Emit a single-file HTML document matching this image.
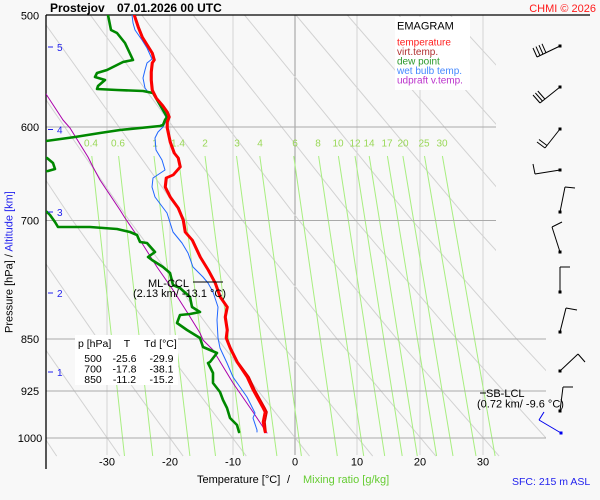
<!DOCTYPE html>
<html><head><meta charset="utf-8"><style>
html,body{margin:0;padding:0;background:#f8f8f8;}
svg{display:block;font-family:"Liberation Sans",Arial,sans-serif;}
</style></head><body>
<svg width="600" height="500" viewBox="0 0 600 500" xmlns="http://www.w3.org/2000/svg">
<rect x="0" y="0" width="600" height="500" fill="#f8f8f8"/>
<defs>
<clipPath id="cg"><polygon points="46,15 496,15 496,310 546,310 546,457 46,457"/></clipPath>
<clipPath id="cd"><rect x="46" y="15" width="550" height="445"/></clipPath>
</defs>

<!-- temperature verticals -->
<g stroke="#d4d4d4" stroke-width="1">
<line x1="107" y1="15" x2="107" y2="455"/>
<line x1="170" y1="15" x2="170" y2="455"/>
<line x1="233" y1="15" x2="233" y2="455"/>
<line x1="357" y1="15" x2="357" y2="455"/>
<line x1="420" y1="15" x2="420" y2="455"/>
<line x1="483" y1="15" x2="483" y2="455"/>
</g>
<line x1="295" y1="15" x2="295" y2="455" stroke="#9a9a9a" stroke-width="1"/>

<!-- dry adiabats -->
<g clip-path="url(#cg)" fill="none" stroke="#d2d2d2" stroke-width="1">
<polyline points="-218,15 -97.3,220.35 -22,338.84 56.7,456.1"/>
<polyline points="-166.8,15 -40.7,220.35 37.9,338.84 119.9,456.1"/>
<polyline points="-115.4,15 15.9,220.35 97.6,338.84 183.1,456.1"/>
<polyline points="-64,15 72.5,220.35 157.5,338.84 246.3,456.1"/>
<polyline points="-12.5,15 129.1,220.35 217.4,338.84 309.5,456.1"/>
<polyline points="38.9,15 185.8,220.35 277.1,338.84 372.7,456.1"/>
<polyline points="90.3,15 242.3,220.35 337,338.84 435.9,456.1"/>
<polyline points="141.7,15 298.9,220.35 396.8,338.84 499.1,456.1"/>
<polyline points="193.1,15 355.5,220.35 456.6,338.84 562.3,456.1"/>
<polyline points="244.5,15 412.1,220.35 516.5,338.84 625.5,456.1"/>
<polyline points="295.9,15 468.7,220.35 576.3,338.84"/>
<polyline points="347.3,15 525.3,220.35"/>
<polyline points="398.7,15 581.9,220.35"/>
<polyline points="450.2,15 638.5,220.35"/>
</g>

<!-- mixing ratio lines -->
<g stroke="#a8ee80" stroke-width="1">
<line x1="91.8" y1="156" x2="124.5" y2="456"/>
<line x1="118.6" y1="156" x2="152.7" y2="456"/>
<line x1="154" y1="156" x2="189.9" y2="456"/>
<line x1="178.3" y1="156" x2="215.5" y2="456"/>
<line x1="205" y1="156" x2="243.6" y2="456"/>
<line x1="236.5" y1="156" x2="276.9" y2="456"/>
<line x1="259.8" y1="156" x2="301.4" y2="456"/>
<line x1="293.7" y1="156" x2="337.3" y2="456"/>
<line x1="318.6" y1="156" x2="363.7" y2="456"/>
<line x1="338.4" y1="156" x2="384.7" y2="456"/>
<line x1="355" y1="156" x2="402.2" y2="456"/>
<line x1="369.2" y1="156" x2="417.3" y2="456"/>
<line x1="387.4" y1="156" x2="436.6" y2="456"/>
<line x1="402.9" y1="156" x2="453" y2="456"/>
<line x1="424.5" y1="156" x2="476" y2="456"/>
<line x1="442.4" y1="156" x2="495.1" y2="456"/>
</g>
<g fill="#9ad858" font-size="10" text-anchor="middle">
<text x="91" y="146.5">0.4</text>
<text x="118" y="146.5">0.6</text>
<text x="155" y="146.5">1</text>
<text x="178" y="146.5">1.4</text>
<text x="205" y="146.5">2</text>
<text x="237" y="146.5">3</text>
<text x="260" y="146.5">4</text>
<text x="295" y="146.5">6</text>
<text x="318" y="146.5">8</text>
<text x="338" y="146.5">10</text>
<text x="355" y="146.5">12</text>
<text x="369" y="146.5">14</text>
<text x="387" y="146.5">17</text>
<text x="403" y="146.5">20</text>
<text x="424" y="146.5">25</text>
<text x="442" y="146.5">30</text>
</g>

<!-- pressure gridlines -->
<g stroke="#aaaaaa" stroke-width="1">
<line x1="46" y1="127" x2="496" y2="127"/>
<line x1="46" y1="220.5" x2="496" y2="220.5"/>
<line x1="46" y1="339" x2="546" y2="339"/>
<line x1="46" y1="391" x2="546" y2="391"/>
<line x1="46" y1="438" x2="546" y2="438"/>
</g>

<!-- axes -->
<line x1="46" y1="15" x2="590" y2="15" stroke="#000" stroke-width="1.3"/>
<line x1="46" y1="15" x2="46" y2="469" stroke="#000" stroke-width="1.3"/>

<!-- legend box -->
<rect x="395" y="17" width="75" height="73" fill="#ffffff"/>
<text x="397" y="29.5" font-size="11" fill="#000">EMAGRAM</text>
<g font-size="10">
<text x="397" y="45.5" fill="#ff2020">temperature</text>
<text x="397" y="55" fill="#b03030">virt.temp.</text>
<text x="397" y="64.5" fill="#2c9a2c">dew point</text>
<text x="397" y="74" fill="#4488ff">wet bulb temp.</text>
<text x="397" y="83.5" fill="#bb33cc">udpraft v.temp.</text>
</g>

<!-- table box -->
<rect x="75" y="335" width="103" height="50" fill="#ffffff"/>
<g font-size="10.5" fill="#000">
<text x="78" y="347">p [hPa]</text>
<text x="127" y="347" text-anchor="middle">T</text>
<text x="144" y="347">Td [°C]</text>
<g text-anchor="middle">
<text x="93" y="362">500</text><text x="124.5" y="362">-25.6</text><text x="161.5" y="362">-29.9</text>
<text x="93" y="372.5">700</text><text x="124.5" y="372.5">-17.8</text><text x="161.5" y="372.5">-38.1</text>
<text x="93" y="383">850</text><text x="124.5" y="383">-11.2</text><text x="161.5" y="383">-15.2</text>
</g>
</g>

<!-- data curves -->
<g clip-path="url(#cd)" fill="none" stroke-linejoin="round" stroke-linecap="round">
<polyline stroke="#aa00aa" stroke-width="1" points="46,94 63,120 70,128 88,157 93,167 100,180 120,210 125,218 140,240 157,267 173,290 187,312 200,333 203,340 213,350 233,383 253,412 267,433"/>
<polyline stroke="#1f66ff" stroke-width="1" points="132,15 133,23 135,30 142,40 147,48 152,59 147,63 145,70 143,78 145,88 148,92 153,93 158,103 165,115 167,120 165,123 163,127 158,132 155,138 156,150 162,160 165,170 153,178 152,187 155,197 167,213 173,232 182,243 188,253 193,267 203,277 208,283 213,292 218,307 217,320 218,338 220,348 227,363 233,377 240,387 247,397 252,407 255,413 253,418 257,430 257,432"/>
<polyline stroke="#008800" stroke-width="2.6" points="108,15 111,30 117,33 125,43 133,60 123,62 117,65 107,70 97,73 95,77 105,80 98,86 97,89 117,90 143,91 153,93 163,110 167,117 165,120 163,125 160,126 120,130 100,133 75,137 46,141 40,142"/>
<polyline stroke="#008800" stroke-width="2.6" points="40,157 47,158 53,163 55,169 48,171 40,172"/>
<polyline stroke="#008800" stroke-width="2.6" points="47,212 50,215 55,222 58,227 90,227 117,229 130,232 137,235 140,242 147,243 155,252 148,257 152,260 163,267 170,273 173,285 180,288 190,297 192,307 200,312 190,314 180,315 177,323 187,330 200,338 203,347 217,353 210,362 208,363 213,373 213,383 220,392 223,400 227,408 230,418 237,425 239,432"/>
<polyline stroke="#dd0000" stroke-width="1.6" points="135,15 139,27 143,37 148,45 153,53 155,60 153,63 152,72 152,80 153,90 157,98 163,105 168,112 170,117 168,122 168,128 171,142 175,153 179,158 181,167 174,175 167,178 166,187 171,197 179,208 184,220 186,232 193,240 201,257 209,270 216,283 221,297 228,307 226,317 228,330 227,338 231,348 238,362 249,377 255,390 265,408 267,412 265,422 266,432"/>
<polyline stroke="#ff0000" stroke-width="2.6" points="134,15 138,27 142,37 147,45 152,53 154,60 152,63 151,72 151,80 152,90 156,98 162,105 167,112 169,117 167,122 167,128 170,142 174,153 178,158 180,167 173,175 166,178 165,187 170,197 178,208 183,220 185,232 192,240 200,257 208,270 215,283 220,297 227,307 225,317 227,330 226,338 230,348 237,362 247,377 253,390 263,408 265,412 263,422 265,432"/>
</g>

<!-- annotations -->
<line x1="193" y1="282" x2="223" y2="282" stroke="#000" stroke-width="1"/>
<g font-size="11" fill="#000">
<text x="148" y="287">ML-CCL</text>
<text x="133" y="297">(2.13 km/ -13.1 °C)</text>
<text x="486" y="397">SB-LCL</text>
<text x="477" y="407.5">(0.72 km/ -9.6 °C)</text>
</g>
<line x1="480" y1="393" x2="486" y2="393" stroke="#000" stroke-width="1"/>

<!-- altitude marks -->
<g stroke="#2222ee" stroke-width="1">
<line x1="48" y1="47" x2="53" y2="47"/>
<line x1="48" y1="129.5" x2="53" y2="129.5"/>
<line x1="48" y1="212" x2="53" y2="212"/>
<line x1="48" y1="293" x2="53" y2="293"/>
<line x1="48" y1="372" x2="53" y2="372"/>
</g>
<g fill="#2222ee" font-size="10">
<text x="57" y="51">5</text>
<text x="57" y="133.5">4</text>
<text x="57" y="216">3</text>
<text x="57" y="297">2</text>
<text x="57" y="376">1</text>
</g>

<!-- tick labels -->
<g font-size="11" fill="#000" text-anchor="middle">
<text x="30" y="19.5">500</text>
<text x="30" y="131">600</text>
<text x="30" y="224.5">700</text>
<text x="30" y="343">850</text>
<text x="30" y="395">925</text>
<text x="30" y="442">1000</text>
<text x="107" y="465.5">-30</text>
<text x="170" y="465.5">-20</text>
<text x="233" y="465.5">-10</text>
<text x="295" y="465.5">0</text>
<text x="357" y="465.5">10</text>
<text x="420" y="465.5">20</text>
<text x="483" y="465.5">30</text>
</g>

<!-- axis titles -->
<text x="197" y="483" font-size="11" fill="#000">Temperature [°C]</text>
<text x="287" y="483" font-size="11" fill="#000">/</text>
<text x="303" y="483" font-size="11" fill="#66cc33">Mixing ratio [g/kg]</text>
<text x="512" y="485" font-size="10.5" fill="#2222ee">SFC: 215 m ASL</text>
<text transform="translate(12.5,333) rotate(-90)" font-size="11"><tspan fill="#000">Pressure [hPa]  /  </tspan><tspan fill="#2222ee">Altitude [km]</tspan></text>

<!-- title -->
<text x="50" y="12" font-size="12" font-weight="bold" fill="#000">Prostejov</text>
<text x="117" y="12" font-size="12" font-weight="bold" fill="#000">07.01.2026 00 UTC</text>
<text x="596" y="12" font-size="11" fill="#ff1a1a" text-anchor="end">CHMI © 2026</text>

<!-- wind barbs -->
<g stroke="#000" stroke-width="1" fill="none">
<line x1="560" y1="46" x2="537" y2="57"/>
<line x1="537" y1="57" x2="533" y2="48"/>
<line x1="540" y1="55.6" x2="536" y2="46.6"/>
<line x1="543" y1="54.2" x2="539" y2="45.2"/>
<line x1="546" y1="52.8" x2="542" y2="43.8"/>
<line x1="560" y1="87" x2="540" y2="103"/>
<line x1="540" y1="103" x2="533" y2="95"/>
<line x1="542.4" y1="101" x2="535.4" y2="93"/>
<line x1="544.8" y1="99" x2="537.8" y2="91"/>
<line x1="560" y1="129" x2="545" y2="148"/>
<line x1="545" y1="148" x2="537" y2="142"/>
<line x1="547" y1="145.5" x2="539" y2="139.5"/>
<line x1="560" y1="170" x2="535" y2="174"/>
<line x1="535" y1="174" x2="533" y2="164"/>
<line x1="560" y1="212" x2="565" y2="187"/>
<line x1="565" y1="187" x2="575" y2="188"/>
<line x1="560" y1="252" x2="552" y2="227"/>
<line x1="552" y1="227" x2="562" y2="222"/>
<line x1="560" y1="292" x2="560" y2="267"/>
<line x1="560" y1="267" x2="570" y2="267"/>
<line x1="560" y1="332" x2="566" y2="308"/>
<line x1="566" y1="308" x2="577" y2="310"/>
<line x1="560" y1="371" x2="578" y2="354"/>
<line x1="578" y1="354" x2="585" y2="362"/>
<line x1="560" y1="411" x2="563" y2="387"/>
<line x1="563" y1="387" x2="573" y2="387"/>
</g>
<g fill="#000">
<rect x="558.5" y="44.5" width="3" height="3"/>
<rect x="558.5" y="85.5" width="3" height="3"/>
<rect x="558.5" y="127.5" width="3" height="3"/>
<rect x="558.5" y="168.5" width="3" height="3"/>
<rect x="558.5" y="210.5" width="3" height="3"/>
<rect x="558.5" y="250.5" width="3" height="3"/>
<rect x="558.5" y="290.5" width="3" height="3"/>
<rect x="558.5" y="330.5" width="3" height="3"/>
<rect x="558.5" y="369.5" width="3" height="3"/>
<rect x="558.5" y="409.5" width="3" height="3"/>
</g>
<g stroke="#0000ee" stroke-width="1">
<line x1="561" y1="433" x2="539" y2="420"/>
<line x1="539" y1="420" x2="544" y2="412"/>
</g>
<rect x="559.5" y="431.5" width="3" height="3" fill="#0000ee"/>
</svg>
</body></html>
